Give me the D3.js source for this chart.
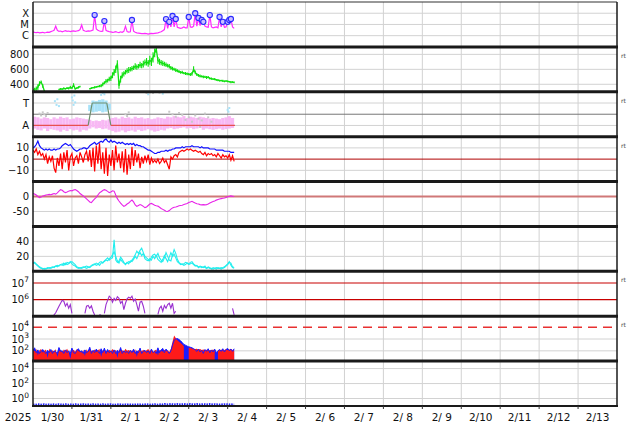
<!DOCTYPE html>
<html><head><meta charset="utf-8">
<script src="https://cdn.jsdelivr.net/npm/d3@7"></script>
<style>body{margin:0;background:#fff}svg{display:block}</style>
</head><body><svg id="c" width="634" height="424"></svg>
<script>
// ================= DATA (hourly from 2025-01-30 00:00 UTC) =================
const startDate = "2025-01-30T00:00:00Z";
const endDate = "2025-02-14T00:00:00Z";
const yearLabel = "2025";
const dayLabels = ["1/30","1/31","2/ 1","2/ 2","2/ 3","2/ 4","2/ 5","2/ 6","2/ 7","2/ 8","2/ 9","2/10","2/11","2/12","2/13"];

// X-ray flux, units of 1e-6 W/m2
const xrayFlux = [
 2.2,2.0,1.9,2.0,1.8,1.9,2.0,1.8,1.9,2.1,
 2.0,2.3,2.6,3.0,7.0,3.0,2.4,2.6,2.2,2.5,
 2.8,2.4,2.6,2.3,2.5,2.7,2.4,2.6,2.8,3.5,
 9.0,3.0,2.6,2.4,2.7,2.5,2.8,3.2,69,4.0,
 3.0,2.6,2.4,2.5,20,3.0,2.5,2.3,2.2,2.0,
 2.1,2.3,2.0,1.9,2.2,2.0,2.4,7.0,2.3,2.1,
 2.2,25,2.5,2.0,1.8,1.7,1.6,1.5,1.5,1.6,
 1.5,1.4,1.5,1.6,1.5,1.6,1.7,1.8,2.0,2.2,
 2.8,3.5,30,4.5,17,6.0,57,6.0,31,5.5,
 5.0,4.5,5.0,6.0,5.0,5.0,46,6.0,5.5,7.0,
 100,7.0,38,8.0,25,17,7.0,6.0,5.5,69,
 6.0,5.0,5.5,6.0,5.0,46,6.0,17,5.5,6.0,
 17,25,31,6.0,4.5];
const flareHour = [38,44,61,82,84,86,88,96,100,102,104,105,109,115,117,120,121,122];
const flareFlux = [69,20,25,30,17,57,31,46,100,38,25,17,69,46,17,17,25,31];
const xrayTicks = [1e-4,1e-5,1e-6];
const xrayTickLabels = ["X","M","C"];

// Solar wind speed km/s (null = no data) and its hourly scatter (half-range)
const windSpeed = [
 320,330,340,360,410,430,380,310,null,null,
 null,null,null,null,null,null,330,340,335,345,
 340,350,345,360,350,390,340,350,360,370,
 null,null,null,null,null,340,350,355,360,365,
 370,375,380,400,420,440,450,470,480,520,
 560,600,680,380,470,520,540,560,580,590,
 600,610,620,640,630,640,660,650,670,690,
 700,680,720,700,760,820,870,720,700,690,
 680,670,660,650,640,620,610,600,590,580,
 570,560,560,550,545,540,535,530,540,600,
 560,530,520,510,505,500,500,490,495,480,
 475,470,470,460,455,450,450,445,440,445,
 440,435,430,430,425];
const windSpread = [
 20,25,30,40,30,20,25,15,0,0,
 0,0,0,0,0,0,10,12,10,15,
 10,12,15,20,10,25,10,12,15,10,
 0,0,0,0,0,10,12,10,15,12,
 10,15,20,25,20,30,25,30,35,40,
 45,50,40,40,45,40,35,30,35,40,
 30,35,30,40,35,30,40,35,45,40,
 50,45,60,55,70,60,50,45,40,35,
 35,30,30,25,30,25,25,20,25,20,
 20,18,20,15,20,18,15,20,25,40,
 25,20,18,20,15,18,15,20,15,15,
 15,12,15,12,15,12,10,15,12,10,
 12,10,15,10,12];
const speedTicks = [800,600,400];

// IMF phi angle (deg): away-sector spread per 2-hour bin
const phiPinkHi = [205,200,190,200,195,185,200,190,205,195,200,185,190,200,195,190,185,180,170,175,170,180,175,185,195,200,190,205,195,200,190,205,195,200,190,195,185,190,200,195,190,205,200,210,205,200,210,195,205,200,195,205,200,195,190,195,190,185,195,200,210,195];
const phiPinkLo = [110,100,95,110,90,105,100,95,85,100,90,105,95,100,85,100,95,110,120,110,115,105,110,100,90,80,85,95,80,90,95,85,100,90,95,105,95,85,90,100,95,110,115,105,110,115,120,110,115,105,110,115,100,110,105,100,105,110,100,105,110,115];
// toward-sector spread (bins 17..23)
const phiBlueBin = [17,18,19,20,21,22,23];
const phiBlueHi = [300,335,330,340,345,335,310];
const phiBlueLo = [250,240,245,250,240,245,260];
const phiBluePts = [[13.5,330],[14.5,300],[15,345],[16,290],[24,360],[24.5,335],[25,300],[25.5,375],[26,320],[42,380],[43,395],[44,385],[71,385],[80,390],[120,260],[120.5,245],[121,275]];
const phiGrayPts = [[4,230],[5,215],[6,240],[7,225],[8,210],[9,235],[57,225],[58,210],[59,240],[70,395],[72,400],[74,395],[78,398],[84,245],[86,225],[88,205],[90,235],[92,220],[94,180],[96,200],[98,165],[100,215],[102,190],[103,125],[104,175],[106,230],[108,200],[110,165]];
const sectorHour = [0,34,36.5,45.5,48,124.5];
const sectorPol = ["A","A","T","T","A","A"];
const phiTicks = [315,135];
const phiTickLabels = ["T","A"];

// IMF Bt and Bz (nT)
const imfBt = [
 10,11,13,16,12,10,9,8,9,8,
 9,8,8,9,8,9,9,10,12,13,
 14,13,12,13,11,9,8,7,8,9,
 9,10,10,9,10,12,13,14,15,13,
 14,15,16,15,17,18,16,15,17,15,
 16,15,14,15,14,15,14,13,14,13,
 14,13,14,12,13,12,12,11,11,10,
 9,8,8,7,6,5,5,6,6,7,
 7,7,8,7,8,8,9,9,10,10,
 10,10,11,10,11,11,11,11,12,11,
 11,11,11,10,11,10,10,10,10,9,
 9,9,9,8,8,8,8,8,7,7,
 7,7,6,6,6];
const imfBz = [
 8,6,9,4,7,3,5,0,4,-4,
 2,-2,3,-8,-12,1,-6,5,-9,6,
 -3,8,-10,2,5,-6,1,3,-4,6,
 2,-3,4,7,-2,8,-7,10,-11,12,
 -4,14,-9,6,-13,10,-15,4,-6,8,
 -10,12,-3,5,-8,7,-12,9,-14,4,
 -9,11,-6,8,-3,5,-8,2,-4,3,
 -2,4,-5,1,-3,-1,-3,0,-4,-2,
 1,-3,-1,-5,-9,2,0,3,4,2,
 6,7,8,7,8,9,8,9,8,7,
 8,7,6,7,5,4,6,3,5,4,
 5,3,4,2,5,3,1,4,2,3,
 1,4,-1,3,-2];
const imfTicks = [10,0,-10];

// Dst (nT)
const dst = [
 10,8,5,0,-4,-2,2,3,5,6,
 7,6,8,10,8,12,18,23,21,16,
 13,15,18,20,19,22,23,20,16,10,
 6,2,-3,-8,-13,-18,-20,-14,-8,-3,
 5,12,16,20,23,21,17,13,15,19,
 18,5,-7,-15,-22,-28,-33,-30,-25,-22,
 -16,-12,-18,-28,-33,-30,-27,-29,-33,-37,
 -35,-30,-25,-23,-26,-29,-31,-32,-36,-40,
 -43,-46,-49,-50,-47,-42,-38,-36,-35,-33,
 -31,-30,-29,-27,-25,-23,-20,-18,-16,-19,
 -22,-24,-25,-27,-28,-27,-28,-27,-25,-22,
 -19,-17,-15,-12,-10,-8,-7,-6,-5,-3,
 -1,1,2,1,0];
const dstTicks = [0,-50];

// panel 6 (two cyan traces)
const cyanA = [
 12,11,9,7,5,4,4,3,4,4,
 5,4,5,6,7,8,7,9,10,8,
 11,9,10,12,13,11,9,6,5,4,
 5,6,5,4,5,6,8,9,10,8,
 9,12,13,11,14,16,18,15,17,18,
 42,15,12,14,19,16,12,10,11,13,
 12,15,18,22,27,24,28,31,25,20,
 18,16,14,19,22,23,20,24,18,15,
 13,18,25,20,15,14,22,29,24,16,
 12,10,9,10,12,11,10,12,13,10,
 8,7,6,6,5,6,5,4,5,4,
 4,3,4,5,4,4,5,4,5,7,
 9,12,11,6,5];
const cyanB = [
 10,12,10,8,6,5,3,4,3,5,
 4,5,6,5,7,6,8,9,8,11,
 9,12,11,13,10,8,7,5,4,5,
 4,5,6,7,6,5,7,8,9,11,
 10,8,11,12,13,15,14,17,19,22,
 26,20,14,11,16,13,11,9,12,10,
 14,13,16,20,17,22,25,21,24,17,
 15,14,17,15,20,17,21,16,14,12,
 16,21,17,13,19,25,20,23,18,13,
 11,9,10,8,9,11,9,10,11,9,
 7,8,5,7,6,5,7,4,6,5,
 3,5,4,3,5,4,3,5,6,8,
 10,13,8,5,4];
const p6Ticks = [40,20];

// high-energy electron flux
const electronFlux = [
 null,null,null,null,null,null,null,null,null,null,
 null,null,1.05e5,1.2e5,1.6e5,2.5e5,4e5,6e5,9e5,8e5,
 4e5,6e5,3e5,5e5,1.5e5,null,null,null,null,null,
 null,null,1.5e5,4e5,4.5e5,3e5,4.2e5,2e5,1.2e5,null,
 null,1.3e5,1.1e5,null,1.5e5,5e5,9e5,1.6e6,1.3e6,7e5,
 1.2e6,9e5,1.5e6,1.2e6,6e5,8e5,2.5e5,6e5,1.1e6,1.4e6,
 1.2e6,1.6e6,8e5,1.1e6,5e5,2e5,7e5,8e5,4e5,1.5e5,
 null,null,null,null,null,null,null,1.3e5,3e5,4e5,
 2e5,4.5e5,3e5,5e5,6e5,3e5,6e5,1.5e5,2e5,null,
 null,null,null,null,null,null,null,null,null,null,
 null,null,null,null,null,null,null,null,null,null,
 null,null,null,null,null,null,null,null,null,null,
 null,null,null,3e5,1.2e5];
const eTicks = [1e7,1e6];
const eTickExp = ["7","6"];

// proton flux (two channels)
const protonRed = [
 120,90,150,40,110,140,70,100,130,25,
 160,85,110,75,140,30,90,120,70,130,
 95,150,80,20,100,125,85,140,90,105,
 70,120,35,135,80,115,100,90,130,75,
 110,145,30,120,95,105,80,125,90,140,
 100,115,25,130,95,110,85,150,100,120,
 90,105,80,135,30,115,100,90,125,85,
 110,140,95,120,80,105,130,40,115,100,
 85,125,95,110,80,150,600,2000,1200,800,
 600,450,350,250,null,null,200,180,160,150,
 140,150,130,140,120,130,110,125,100,120,
 110,130,100,null,120,110,130,100,120,140,
 110,130,150,120,100];
const protonBlue = [
 100,180,70,120,60,90,130,80,60,110,
 70,130,60,100,80,60,190,90,100,60,
 120,70,100,60,170,70,60,110,150,80,
 100,60,120,70,90,200,60,110,70,140,
 90,60,150,70,170,60,130,70,100,60,
 120,60,110,70,190,60,100,70,90,60,
 110,70,140,60,100,70,170,60,90,110,
 70,100,60,140,70,90,60,180,70,120,
 160,70,140,90,60,100,300,800,1000,1100,
 900,700,500,350,300,250,220,200,180,150,
 120,90,140,80,110,60,130,90,150,70,
 120,80,140,70,100,130,90,150,80,130,
 160,100,140,90,150];
const pTicks = [1e4,1e3,1e2];
const pTickExp = ["4","3","2"];

// bottom panel (blue dotted trace)
const lowFlux = [
 0.15,0.16,0.15,0.17,0.16,0.15,0.16,0.17,0.15,0.16,
 0.16,0.15,0.17,0.16,0.15,0.16,0.17,0.16,0.15,0.16,
 0.17,0.16,0.15,0.16,0.16,0.15,0.17,0.16,0.15,0.16,
 0.16,0.17,0.15,0.16,0.16,0.15,0.16,0.17,0.16,0.15,
 0.16,0.16,0.15,0.17,0.16,0.15,0.16,0.16,0.17,0.15,
 0.16,0.15,0.16,0.17,0.16,0.15,0.16,0.16,0.15,0.17,
 0.16,0.15,0.16,0.16,0.17,0.15,0.16,0.16,0.15,0.16,
 0.17,0.16,0.15,0.16,0.16,0.17,0.16,0.15,0.16,0.17,
 0.16,0.18,0.17,0.16,0.17,0.18,0.17,0.16,0.17,0.18,
 0.17,0.16,0.17,0.18,0.17,0.16,0.17,0.18,0.17,0.16,
 0.17,0.18,0.17,0.16,0.17,0.18,0.17,0.16,0.17,0.18,
 0.17,0.16,0.17,0.16,0.17,0.16,0.17,0.16,0.17,0.16,
 0.17,0.16,0.17,0.16,0.16];
const p9Ticks = [1e4,1e2,1e0];
const p9TickExp = ["4","2","0"];

const rtPanels = [1,2,3,6,7];

// ================= DRAWING =================
const svg = d3.select("#c");
const X0 = 33, X1 = 617, TOP = 2, BOT = 406, NP = 9, PH = (BOT - TOP) / NP;
const FONT = "DejaVu Sans, sans-serif";
const t0 = Date.parse(startDate);
const x = d3.scaleUtc().domain([new Date(startDate), new Date(endDate)]).range([X0, X1]);
const th = h => new Date(t0 + h * 3600e3);
const pTop = i => TOP + i * PH, pBot = i => TOP + (i + 1) * PH;

const ys = [
  d3.scaleLog().domain([1e-7, 1e-3]),
  d3.scaleLinear().domain([300, 900]),
  d3.scaleLinear().domain([45, 405]),
  d3.scaleLinear().domain([-20, 20]),
  d3.scaleLinear().domain([-100, 50]),
  d3.scaleLinear().domain([0, 60]),
  d3.scaleLog().domain([1e5, Math.pow(10, 7.7)]),
  d3.scaleLog().domain([Math.pow(10, 1.13), Math.pow(10, 4.93)]),
  d3.scaleLog().domain([0.1, 1e5])
].map((s, i) => s.range([pBot(i), pTop(i)]));

const defs = svg.append("defs");
for (let i = 0; i < NP; i++) {
  defs.append("clipPath").attr("id", "cp" + i).append("rect")
    .attr("x", X0).attr("y", pTop(i)).attr("width", X1 - X0).attr("height", PH);
}
const layer = i => svg.append("g").attr("clip-path", `url(#cp${i})`);

// vertical day gridlines
const days = d3.utcDay.range(new Date(startDate), new Date(endDate)).slice(1);
svg.append("g").selectAll("line").data(days).join("line")
  .attr("x1", d => x(d)).attr("x2", d => x(d)).attr("y1", TOP).attr("y2", BOT)
  .attr("stroke", "#d2d2d2").attr("stroke-width", 1);

// horizontal gridlines
function hgrid(i, vals, color = "#d2d2d2", w = 1, dash = null) {
  svg.append("g").selectAll("line").data(vals).join("line")
    .attr("x1", X0).attr("x2", X1).attr("y1", d => ys[i](d)).attr("y2", d => ys[i](d))
    .attr("stroke", color).attr("stroke-width", w).attr("stroke-dasharray", dash);
}
hgrid(0, xrayTicks);
hgrid(1, speedTicks);
hgrid(2, phiTicks);
hgrid(2, [225], "#777", 1);
hgrid(3, [10, -10]);
hgrid(3, [0], "#b00000", 1);
hgrid(4, [-50]);
hgrid(4, [0], "#d07878", 2.2);
hgrid(5, p6Ticks);
hgrid(6, eTicks, "#c80000", 1.1);
hgrid(7, [1e3, 1e2]);
hgrid(7, [1e4], "#e83030", 1.5, "9,6");
hgrid(8, p9Ticks);

// y labels
function ylab(i, v, txt, sup) {
  const t = svg.append("text").attr("x", 29).attr("y", ys[i](v)).attr("dy", "0.36em")
    .attr("text-anchor", "end").attr("font-family", FONT).attr("font-size", 10).attr("fill", "#111");
  if (sup !== undefined) {
    t.append("tspan").text("10");
    t.append("tspan").attr("dy", -4.5).attr("font-size", 7.5).text(sup);
  } else t.text(txt);
}
xrayTicks.forEach((v, k) => ylab(0, v, xrayTickLabels[k]));
speedTicks.forEach(v => ylab(1, v, String(v)));
phiTicks.forEach((v, k) => ylab(2, v, phiTickLabels[k]));
imfTicks.forEach(v => ylab(3, v, v < 0 ? "\u2212" + (-v) : String(v)));
dstTicks.forEach(v => ylab(4, v, v < 0 ? "-" + (-v) : String(v)));
p6Ticks.forEach(v => ylab(5, v, String(v)));
eTicks.forEach((v, k) => ylab(6, v, null, eTickExp[k]));
pTicks.forEach((v, k) => ylab(7, v, null, pTickExp[k]));
p9Ticks.forEach((v, k) => ylab(8, v, null, p9TickExp[k]));

const lineOf = (i, scaleMul = 1) => d3.line().defined(d => d != null)
  .x((d, h) => x(th(h))).y(d => ys[i](d * scaleMul));

// Panel 0: X-ray
const g0 = layer(0);
g0.append("path").datum(xrayFlux).attr("d", lineOf(0, 1e-6))
  .attr("fill", "none").attr("stroke", "#ff2bff").attr("stroke-width", 1.2);
g0.selectAll("circle").data(flareHour).join("circle")
  .attr("cx", h => x(th(h))).attr("cy", (h, k) => ys[0](flareFlux[k] * 1e-6))
  .attr("r", 2.6).attr("fill", "#c9c0ff").attr("stroke", "#2a2aff").attr("stroke-width", 1.1);

// Panel 1: solar wind speed (scatter bars + trace)
const g1 = layer(1);
const speedIdx = d3.range(windSpeed.length).filter(h => windSpeed[h] != null && windSpread[h] > 0);
g1.selectAll("line").data(speedIdx).join("line")
  .attr("x1", h => x(th(h))).attr("x2", h => x(th(h)))
  .attr("y1", h => ys[1](windSpeed[h] - windSpread[h])).attr("y2", h => ys[1](windSpeed[h] + windSpread[h]))
  .attr("stroke", "#10e010").attr("stroke-width", 1.1);
g1.append("path").datum(windSpeed).attr("d", lineOf(1))
  .attr("fill", "none").attr("stroke", "#10e010").attr("stroke-width", 1.3);

// Panel 2: IMF phi
const g2 = layer(2);
const bw = x(th(2)) - x(th(0));
g2.selectAll("rect.pk").data(phiPinkHi).join("rect").attr("class", "pk")
  .attr("x", (d, k) => x(th(2 * k))).attr("width", bw)
  .attr("y", d => ys[2](d)).attr("height", (d, k) => ys[2](phiPinkLo[k]) - ys[2](d))
  .attr("fill", "#f8b8f4");
g2.selectAll("rect.bl").data(phiBlueBin).join("rect").attr("class", "bl")
  .attr("x", b => x(th(2 * b))).attr("width", bw)
  .attr("y", (b, k) => ys[2](phiBlueHi[k])).attr("height", (b, k) => ys[2](phiBlueLo[k]) - ys[2](phiBlueHi[k]))
  .attr("fill", "#a8e2f8");
g2.selectAll("rect.bp").data(phiBluePts).join("rect").attr("class", "bp")
  .attr("x", d => x(th(d[0])) - 1).attr("y", d => ys[2](d[1]) - 1).attr("width", 2).attr("height", 2)
  .attr("fill", "#a8e2f8");
g2.selectAll("rect.gp").data(phiGrayPts).join("rect").attr("class", "gp")
  .attr("x", d => x(th(d[0])) - 1).attr("y", d => ys[2](d[1]) - 1).attr("width", 2).attr("height", 2)
  .attr("fill", "#c8c8c8");
const polDeg = p => p === "A" ? 135 : 315;
for (let k = 0; k < sectorHour.length - 1; k++) {
  const both = sectorPol[k] === "A" && sectorPol[k + 1] === "A";
  g2.append("line")
    .attr("x1", x(th(sectorHour[k]))).attr("y1", ys[2](polDeg(sectorPol[k])))
    .attr("x2", x(th(sectorHour[k + 1]))).attr("y2", ys[2](polDeg(sectorPol[k + 1])))
    .attr("stroke", both ? "#e85050" : "#6e8e6e").attr("stroke-width", 1.2);
}

// Panel 3: Bt, Bz
const g3 = layer(3);
g3.append("path").datum(imfBt).attr("d", lineOf(3))
  .attr("fill", "none").attr("stroke", "#1010ff").attr("stroke-width", 1.2);
g3.append("path").datum(imfBz).attr("d", lineOf(3))
  .attr("fill", "none").attr("stroke", "#ff0000").attr("stroke-width", 1.2);

// Panel 4: Dst
layer(4).append("path").datum(dst).attr("d", lineOf(4))
  .attr("fill", "none").attr("stroke", "#e822e8").attr("stroke-width", 1.1);

// Panel 5: cyan traces
const g5 = layer(5);
[cyanB, cyanA].forEach(arr => g5.append("path").datum(arr).attr("d", lineOf(5))
  .attr("fill", "none").attr("stroke", "#22eeee").attr("stroke-width", 1.1));

// Panel 6: electrons
layer(6).append("path").datum(electronFlux).attr("d", lineOf(6))
  .attr("fill", "none").attr("stroke", "#9a30d0").attr("stroke-width", 1.1);

// Panel 7: protons
const g7 = layer(7);
const areaOf = i => d3.area().defined(d => d != null)
  .x((d, h) => x(th(h))).y0(pBot(i)).y1(d => ys[i](d));
g7.append("path").datum(protonBlue).attr("d", areaOf(7)).attr("fill", "#1a1aff");
g7.append("path").datum(protonRed).attr("d", areaOf(7)).attr("fill", "#ff1a1a");
g7.append("path").datum(protonBlue).attr("d", lineOf(7))
  .attr("fill", "none").attr("stroke", "#1a1aff").attr("stroke-width", 1);

// Panel 8: low flux dotted
layer(8).append("path").datum(lowFlux).attr("d", lineOf(8))
  .attr("fill", "none").attr("stroke", "#2020ff").attr("stroke-width", 2).attr("stroke-dasharray", "1.5,1");

// borders
for (let i = 1; i < NP; i++) {
  svg.append("line").attr("x1", X0 - 1).attr("x2", X1 + 1).attr("y1", pTop(i)).attr("y2", pTop(i))
    .attr("stroke", "#1a1a1a").attr("stroke-width", 3);
}
svg.append("line").attr("x1", X0).attr("x2", X1).attr("y1", TOP).attr("y2", TOP).attr("stroke", "#333").attr("stroke-width", 1.2);
svg.append("line").attr("x1", X0 - 1).attr("x2", X1 + 1).attr("y1", BOT).attr("y2", BOT).attr("stroke", "#1a1a1a").attr("stroke-width", 2.2);
[X0, X1].forEach(xx => svg.append("line").attr("x1", xx).attr("x2", xx).attr("y1", TOP).attr("y2", BOT)
  .attr("stroke", "#1a1a1a").attr("stroke-width", 1.5));
svg.append("g").selectAll("line").data(days).join("line")
  .attr("x1", d => x(d)).attr("x2", d => x(d)).attr("y1", BOT).attr("y2", BOT + 3)
  .attr("stroke", "#333");

// x labels
svg.append("g").selectAll("text").data(dayLabels).join("text")
  .attr("x", (d, k) => x(new Date(t0 + (k + 0.5) * 86400e3))).attr("y", 421)
  .attr("text-anchor", "middle").attr("font-family", FONT).attr("font-size", 10.5).attr("fill", "#111")
  .attr("xml:space", "preserve").style("white-space", "pre").text(d => d);
svg.append("text").attr("x", 18).attr("y", 421).attr("text-anchor", "middle")
  .attr("font-family", FONT).attr("font-size", 10.5).attr("fill", "#111").text(yearLabel);

// "rt" markers
svg.append("g").selectAll("text").data(rtPanels).join("text")
  .attr("x", 621).attr("y", i => pTop(i) + 11).attr("font-family", FONT).attr("font-size", 6)
  .attr("fill", "#444").text("rt");
</script></body></html>
